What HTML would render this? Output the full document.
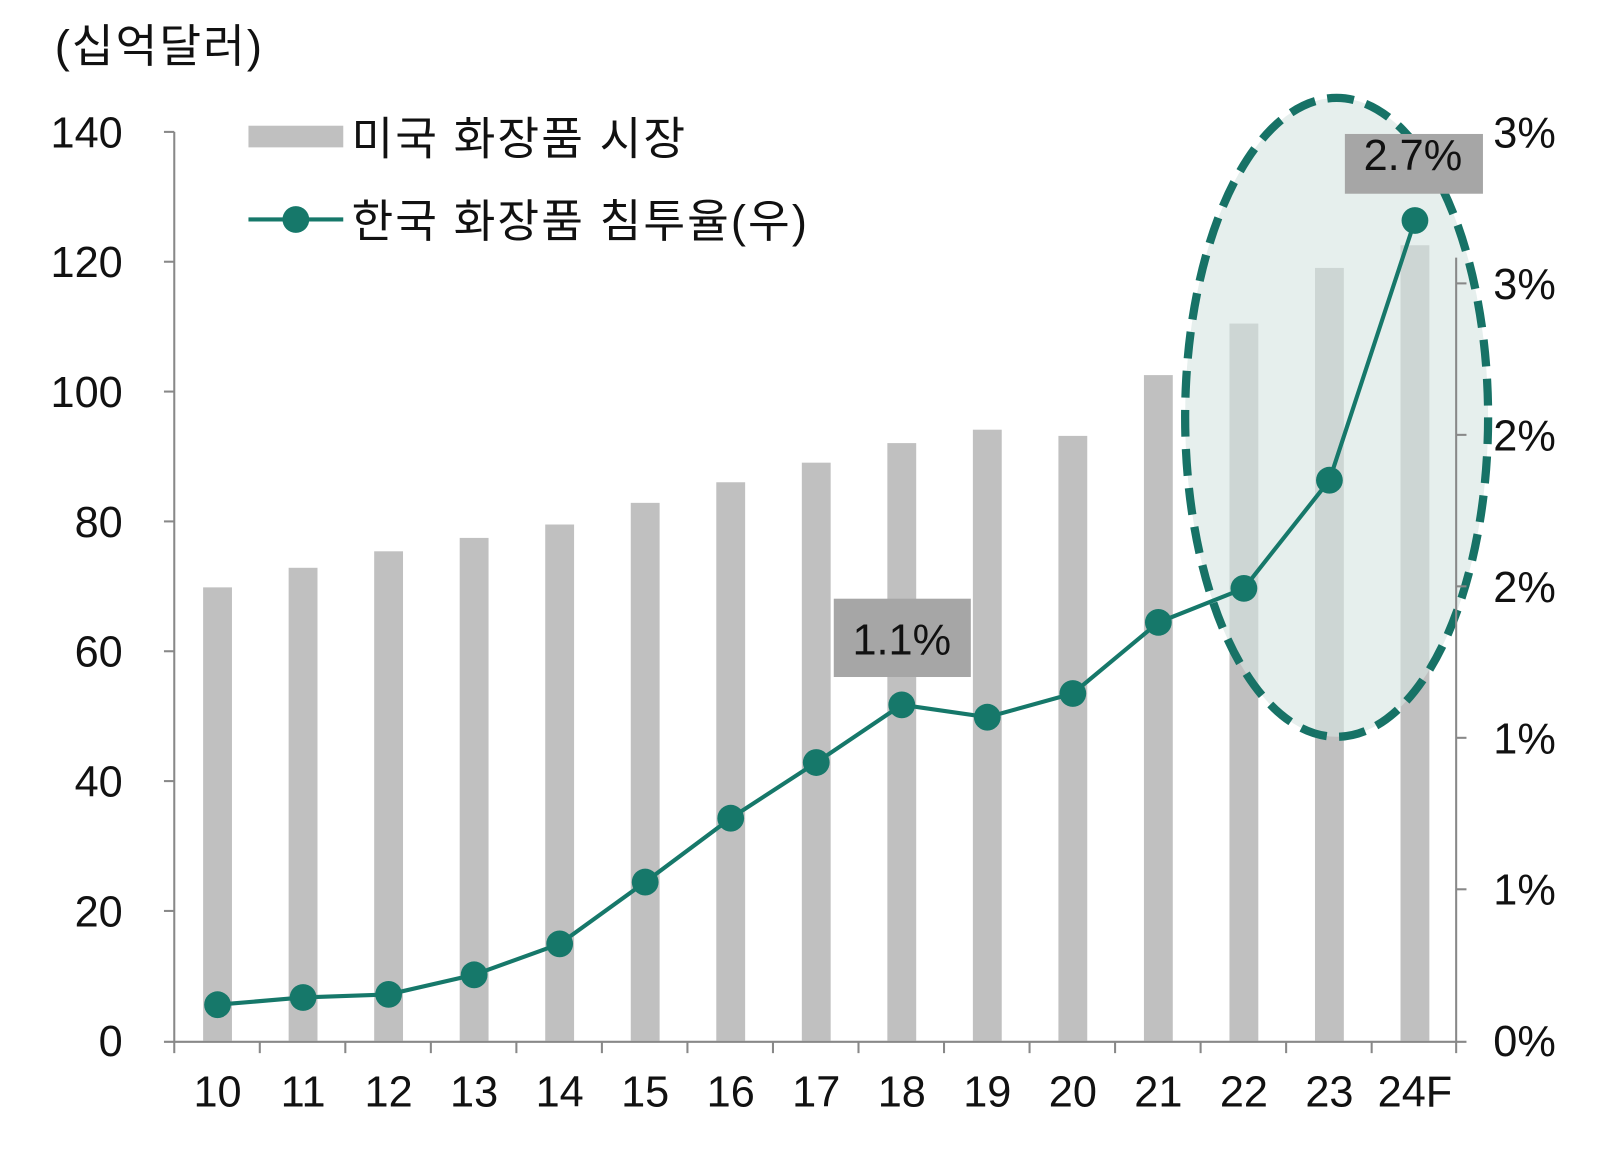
<!DOCTYPE html>
<html><head><meta charset="utf-8"><style>
html,body{margin:0;padding:0;background:#fff;}
svg{display:block;}
text{font-family:"Liberation Sans","Noto Sans CJK KR",sans-serif;fill:#111;}
</style></head><body>
<svg width="1616" height="1150" viewBox="0 0 1566 1116" xmlns="http://www.w3.org/2000/svg">
<text x="52" y="60" font-size="44" letter-spacing="2">(십억달러)</text>
<g fill="#c0c0c0">
<rect x="196" y="570" width="28" height="440"/>
<rect x="279" y="551" width="28" height="459"/>
<rect x="362" y="535" width="28" height="475"/>
<rect x="445" y="522" width="28" height="488"/>
<rect x="528" y="509" width="28" height="501"/>
<rect x="611" y="488" width="28" height="522"/>
<rect x="694" y="468" width="28" height="542"/>
<rect x="777" y="449" width="28" height="561"/>
<rect x="860" y="430" width="28" height="580"/>
<rect x="943" y="417" width="28" height="593"/>
<rect x="1026" y="423" width="28" height="587"/>
<rect x="1109" y="364" width="28" height="646"/>
<rect x="1192" y="314" width="28" height="696"/>
<rect x="1275" y="260" width="28" height="750"/>
<rect x="1358" y="238" width="28" height="772"/>
</g>
<ellipse cx="1296" cy="405" rx="147" ry="310" fill="#d5e5e1" fill-opacity="0.6" stroke="#177266" stroke-width="8" stroke-dasharray="26,12"/>
<g stroke="#888" stroke-width="2" fill="none">
<line x1="168" y1="128" x2="168" y2="1012"/>
<line x1="1412" y1="250" x2="1412" y2="1022"/>
<line x1="158" y1="1011" x2="1422" y2="1011"/>
<line x1="158" y1="128" x2="168" y2="128"/><line x1="158" y1="254" x2="168" y2="254"/>
<line x1="158" y1="380" x2="168" y2="380"/><line x1="158" y1="506" x2="168" y2="506"/>
<line x1="158" y1="632" x2="168" y2="632"/><line x1="158" y1="758" x2="168" y2="758"/>
<line x1="158" y1="884" x2="168" y2="884"/>
<line x1="1412" y1="275" x2="1422" y2="275"/><line x1="1412" y1="422" x2="1422" y2="422"/>
<line x1="1412" y1="569" x2="1422" y2="569"/><line x1="1412" y1="716" x2="1422" y2="716"/>
<line x1="1412" y1="863" x2="1422" y2="863"/>
<line x1="168" y1="1011" x2="168" y2="1022"/><line x1="251" y1="1011" x2="251" y2="1022"/>
<line x1="334" y1="1011" x2="334" y2="1022"/><line x1="417" y1="1011" x2="417" y2="1022"/>
<line x1="500" y1="1011" x2="500" y2="1022"/><line x1="583" y1="1011" x2="583" y2="1022"/>
<line x1="666" y1="1011" x2="666" y2="1022"/><line x1="749" y1="1011" x2="749" y2="1022"/>
<line x1="832" y1="1011" x2="832" y2="1022"/><line x1="915" y1="1011" x2="915" y2="1022"/>
<line x1="998" y1="1011" x2="998" y2="1022"/><line x1="1081" y1="1011" x2="1081" y2="1022"/>
<line x1="1164" y1="1011" x2="1164" y2="1022"/><line x1="1247" y1="1011" x2="1247" y2="1022"/>
<line x1="1330" y1="1011" x2="1330" y2="1022"/>
</g>
<g font-size="42" text-anchor="end">
<text x="118" y="143">140</text><text x="118" y="269">120</text><text x="118" y="395">100</text>
<text x="118" y="521">80</text><text x="118" y="647">60</text><text x="118" y="773">40</text>
<text x="118" y="899">20</text><text x="118" y="1025">0</text>
</g>
<g font-size="42">
<text x="1448" y="143">3%</text><text x="1448" y="290">3%</text><text x="1448" y="437">2%</text>
<text x="1448" y="584">2%</text><text x="1448" y="731">1%</text><text x="1448" y="878">1%</text>
<text x="1448" y="1025">0%</text>
</g>
<g font-size="42" text-anchor="middle">
<text x="210" y="1074">10</text><text x="293" y="1074">11</text><text x="376" y="1074">12</text>
<text x="459" y="1074">13</text><text x="542" y="1074">14</text><text x="625" y="1074">15</text>
<text x="708" y="1074">16</text><text x="791" y="1074">17</text><text x="874" y="1074">18</text>
<text x="957" y="1074">19</text><text x="1040" y="1074">20</text><text x="1123" y="1074">21</text>
<text x="1206" y="1074">22</text><text x="1289" y="1074">23</text><text x="1372" y="1074">24F</text>
</g>
<rect x="808" y="581" width="133" height="76" fill="#a6a6a6"/>
<text x="874" y="635" font-size="42" text-anchor="middle" fill="#222">1.1%</text>
<rect x="1304" y="130" width="134" height="58" fill="#a6a6a6"/>
<text x="1370" y="165" font-size="42" text-anchor="middle" fill="#222">2.7%</text>
<polyline fill="none" stroke="#16786a" stroke-width="4" points="210,975 293,968 376,965 459,946 542,916 625,856 708,794 791,740 874,684 957,696 1040,673 1123,604 1206,571 1289,466 1372,214"/>
<g fill="#16786a">
<circle cx="210" cy="975" r="13"/><circle cx="293" cy="968" r="13"/><circle cx="376" cy="965" r="13"/>
<circle cx="459" cy="946" r="13"/><circle cx="542" cy="916" r="13"/><circle cx="625" cy="856" r="13"/>
<circle cx="708" cy="794" r="13"/><circle cx="791" cy="740" r="13"/><circle cx="874" cy="684" r="13"/>
<circle cx="957" cy="696" r="13"/><circle cx="1040" cy="673" r="13"/><circle cx="1123" cy="604" r="13"/>
<circle cx="1206" cy="571" r="13"/><circle cx="1289" cy="466" r="13"/><circle cx="1372" cy="214" r="13"/>
</g>
<rect x="240" y="122" width="92" height="21" fill="#c0c0c0"/>
<text x="340" y="150" font-size="44" letter-spacing="2">미국 화장품 시장</text>
<line x1="240" y1="213" x2="332" y2="213" stroke="#16786a" stroke-width="4"/>
<circle cx="286" cy="213" r="13" fill="#16786a"/>
<text x="340" y="230" font-size="44" letter-spacing="2">한국 화장품 침투율(우)</text>
</svg>
</body></html>
